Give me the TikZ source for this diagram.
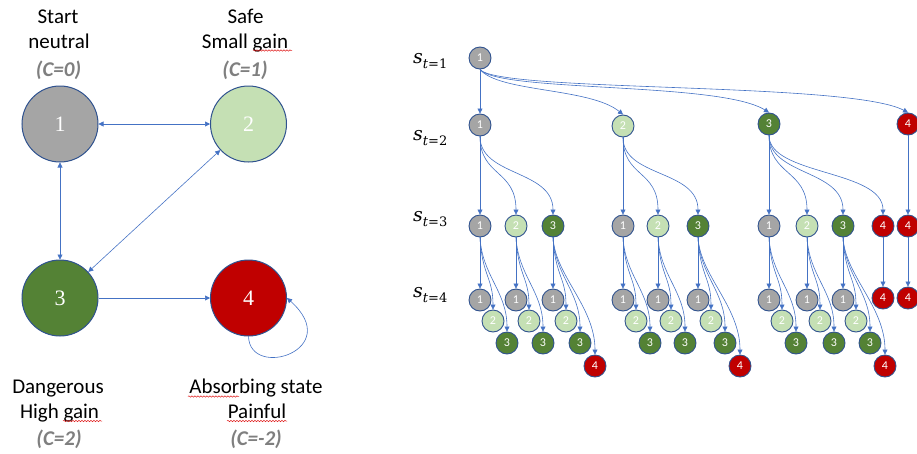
\documentclass[tikz,border=0pt]{standalone}
\usepackage[no-math]{fontspec}
\setmainfont{Carlito}
\newfontfamily\serifnum{Liberation Serif}
\newfontfamily\mathlike{DejaVu Serif}
\usetikzlibrary{arrows.meta,decorations.pathmorphing}
\definecolor{edgeblue}{HTML}{4472C4}
\definecolor{outl}{HTML}{2F528F}
\definecolor{cgray}{HTML}{A5A5A5}
\definecolor{clight}{HTML}{C5E0B4}
\definecolor{cdark}{HTML}{548235}
\definecolor{cred}{HTML}{C00000}
\definecolor{labgray}{HTML}{7F7F7F}
\definecolor{squigred}{HTML}{E02020}
\newcommand{\stlab}[1]{{\mathlike\fontsize{19}{19}\selectfont\itshape s}\raisebox{-5pt}{\mathlike\fontsize{13}{13}\selectfont\itshape t\upshape =#1}}
\begin{document}
\begin{tikzpicture}[x=1pt,y=-1pt,
  >={Triangle[length=5pt,width=5pt]},
  big/.style={circle,draw=outl,line width=1pt,minimum size=76pt,inner sep=0pt,text=white,font=\serifnum\fontsize{22}{22}\selectfont},
  sm/.style={circle,draw=outl,line width=0.9pt,minimum size=22pt,inner sep=0pt,text=white,font=\fontsize{12}{12}\selectfont},
  f1/.style={fill=cgray},
  f2/.style={fill=clight},
  f3/.style={fill=cdark},
  f4/.style={fill=cred},
  arr/.style={draw=edgeblue,line width=0.6pt,->},
  darr/.style={draw=edgeblue,line width=0.6pt,<->},
  lab/.style={anchor=base,inner sep=0pt,font=\fontsize{21}{21}\selectfont},
  clab/.style={anchor=base,inner sep=0pt,text=labgray,font=\fontsize{21}{21}\selectfont\bfseries\itshape},
  slab/.style={anchor=base west,inner sep=0pt},
  squig/.style={draw=squigred,line width=0.5pt,decorate,decoration={snake,amplitude=0.7pt,segment length=3pt}}
]
\useasboundingbox (0,0) rectangle (917,453);

% ---------- left graph ----------
\node[big,f1] (n1) at (60,124) {1};
\node[big,f2] (n2) at (248.5,124) {2};
\node[big,f3] (n3) at (60,298) {3};
\node[big,f4] (n4) at (248.5,298) {4};

\draw[darr] (n1) -- (n2);
\draw[darr] (n1) -- (n3);
\draw[darr] (n2) -- (n3);
\draw[arr] (n3) -- (n4);
\draw[arr] (n4.south) .. controls (250,380) and (345,350) .. (n4.east);

\node[lab] (t1a) at (58,23) {Start};
\node[lab] (t1b) at (59,48) {neutral};
\node[clab] (t1c) at (58.5,76) {(C=0)};
\node[lab] (t2a) at (245.5,23) {Safe};
\node[lab] (t2b) at (245,48) {Small gain};
\node[clab] (t2c) at (245,76) {(C=1)};
\node[lab] (t3a) at (58,393) {Dangerous};
\node[lab] (t3b) at (59.5,418) {High gain};
\node[clab] (t3c) at (59,445) {(C=2)};
\node[lab] (t4a) at (256,393) {Absorbing state};
\node[lab] (t4b) at (257,418) {Painful};
\node[clab] (t4c) at (256,445) {(C=-2)};

\draw[squig] (253,50.5) -- (292,50.5);
\draw[squig] (63,421) -- (102,421);
\draw[squig] (188,396.5) -- (239,396.5);
\draw[squig] (227,421) -- (287,421);

% ---------- tree ----------
\node[slab] (s1) at (413,63) {\stlab{1}};
\node[slab] (s2) at (413,140) {\stlab{2}};
\node[slab] (s3) at (413,221) {\stlab{3}};
\node[slab] (s4) at (413,297) {\stlab{4}};

\node[sm,f1] (r) at (480,58) {1};
\node[sm,f1] (a1) at (480,125) {1};
\node[sm,f2] (a2) at (623,126) {2};
\node[sm,f3] (a3) at (769,124) {3};
\node[sm,f4] (a4) at (908,124) {4};

\draw[arr] (r.south) -- (a1.north);
\draw[arr] (r.south) .. controls +(19,23) and +(-33,-27) .. (a2.north);
\draw[arr] (r.south) .. controls +(19,23) and +(-49,-31) .. (a3.north);
\draw[arr] (r.south) .. controls +(19,23) and +(-58,-31) .. (a4.north);

\node[sm,f1] (b11) at (480,226) {1};
\node[sm,f2] (b12) at (516,226) {2};
\node[sm,f3] (b13) at (553,226) {3};
\node[sm,f1] (b21) at (623,226) {1};
\node[sm,f2] (b22) at (658,226) {2};
\node[sm,f3] (b23) at (698,226) {3};
\node[sm,f1] (b31) at (769,226) {1};
\node[sm,f2] (b32) at (807,226) {2};
\node[sm,f3] (b33) at (843,226) {3};
\node[sm,f4] (b34) at (883,226) {4};
\node[sm,f4] (b44) at (908,226) {4};

\draw[arr] (a1.south) -- (b11.north);
\draw[arr] (a1.south) .. controls +(0,40) and +(0,-45) .. (b12.north);
\draw[arr] (a1.south) .. controls +(0,40) and +(0,-45) .. (b13.north);
\draw[arr] (a2.south) -- (b21.north);
\draw[arr] (a2.south) .. controls +(0,40) and +(0,-45) .. (b22.north);
\draw[arr] (a2.south) .. controls +(0,40) and +(0,-45) .. (b23.north);
\draw[arr] (a3.south) -- (b31.north);
\draw[arr] (a3.south) .. controls +(0,40) and +(0,-45) .. (b32.north);
\draw[arr] (a3.south) .. controls +(0,40) and +(0,-45) .. (b33.north);
\draw[arr] (a3.south) .. controls +(0,40) and +(0,-45) .. (b34.north);
\draw[arr] (a4.south) -- (b44.north);

\foreach \p/\x/\d in {b11/480/0, b12/516/0, b13/553/1, b21/623/0, b22/658/0, b23/698/1, b31/769/0, b32/807/0, b33/843/1} {
  \node[sm,f1] (\p-1) at (\x,300) {1};
  \node[sm,f2] (\p-2) at (\x+13,321) {2};
  \node[sm,f3] (\p-3) at (\x+27,343) {3};
  \draw[arr] (\p.south) -- (\p-1.north);
  \draw[arr] (\p.south) .. controls +(2,38) and +(0,-32) .. (\p-2.north);
  \draw[arr] (\p.south) .. controls +(2,38) and +(0,-40) .. (\p-3.north);
  \ifnum\d=1
    \node[sm,f4] (\p-4) at (\x+42,366) {4};
    \draw[arr] (\p.south) .. controls +(2,38) and +(0,-48) .. (\p-4.north);
  \fi
}
\node[sm,f4] (c34) at (883,298) {4};
\node[sm,f4] (c44) at (908,298) {4};
\draw[arr] (b34.south) -- (c34.north);
\draw[arr] (b44.south) -- (c44.north);
\end{tikzpicture}
\end{document}
